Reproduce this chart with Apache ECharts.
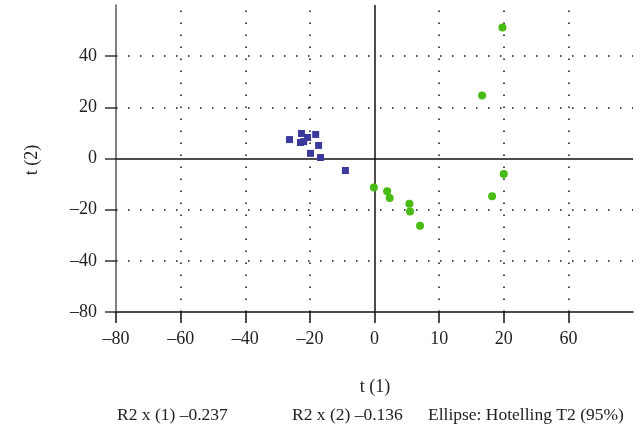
<!DOCTYPE html>
<html><head><meta charset="utf-8">
<script src="https://cdn.jsdelivr.net/npm/echarts@6/dist/echarts.min.js"></script>
<style>html,body{margin:0;padding:0;background:#fff}#c{width:644px;height:432px}</style>
</head><body><div id="c"></div>
<script>
// Blue squares (group 1)
const groupA = [[-26.3,7.4],[-22.6,9.8],[-20.7,8.2],[-18.2,9.4],[-22.9,6.25],[-21.9,6.6],[-17.3,5.1],[-19.8,2.0],[-16.7,0.4],[-9.0,-4.7]];
// Green circles (group 2)
const groupB = [[39.6,51.2],[33.3,24.6],[40.0,-6.1],[-0.2,-11.3],[3.9,-12.8],[4.7,-15.4],[10.8,-17.7],[11.0,-20.7],[14.1,-26.3],[36.4,-14.8]];
const xTickValues = [-80,-60,-40,-20,0,20,40,60];
const xTickLabels = ['–80','–60','–40','–20','0','10','20','60'];
const yTickValues = [-60,-40,-20,0,20,40];
const yTickLabels = ['–80','–40','–20','0','20','40'];
const xGridValues = [-60,-40,-20,20,40,60];
const yGridValues = [-40,-20,20,40];
const xName = 't (1)';
const yName = 't (2)';
const footers = ['R2 x (1) –0.237','R2 x (2) –0.136','Ellipse: Hotelling T2 (95%)'];

const FONT = '"Liberation Serif", "Times New Roman", serif';
const chart = echarts.init(document.getElementById('c'), null, {renderer:'canvas'});
const dotted = {color:'#111', width:1.5, type:[1.5,10.5], opacity:1};
chart.setOption({
  animation:false,
  grid:{left:116, right:11, top:5, bottom:120},
  xAxis:{
    type:'value', min:-80, max:80, interval:20,
    axisLine:{show:true, onZero:false, lineStyle:{color:'#111', width:1.5}},
    axisTick:{show:true, length:11, customValues:xTickValues, lineStyle:{color:'#111', width:1.5}},
    axisLabel:{customValues:xTickValues, margin:18, fontFamily:FONT, fontSize:18, color:'#222',
      formatter:v=>{const i=xTickValues.indexOf(v);return i>=0?xTickLabels[i]:'';}},
    splitLine:{show:false}
  },
  yAxis:{
    type:'value', min:-60, max:60, interval:20,
    axisLine:{show:true, onZero:false, lineStyle:{color:'#555', width:1.5}},
    axisTick:{show:true, length:11, customValues:yTickValues, lineStyle:{color:'#333', width:1.5}},
    axisLabel:{customValues:yTickValues, margin:19, fontFamily:FONT, fontSize:18, color:'#222',
      formatter:v=>{const i=yTickValues.indexOf(v);return i>=0?yTickLabels[i]:'';}},
    splitLine:{show:false}
  },
  graphic:[
    {type:'text', x:375, y:387, style:{text:xName, font:'18px '+FONT, fill:'#222', align:'center', verticalAlign:'middle'}},
    {type:'text', x:32, y:160, rotation:Math.PI/2, style:{text:yName, font:'18px '+FONT, fill:'#222', align:'center', verticalAlign:'middle'}},
    {type:'text', x:117, y:415, style:{text:footers[0], font:'17.5px '+FONT, fill:'#222', verticalAlign:'middle'}},
    {type:'text', x:292, y:415, style:{text:footers[1], font:'17.5px '+FONT, fill:'#222', verticalAlign:'middle'}},
    {type:'text', x:428, y:415, style:{text:footers[2], font:'17.5px '+FONT, fill:'#222', verticalAlign:'middle'}}
  ],
  series:[
    {type:'scatter', data:[], z:1, silent:true,
     markLine:{silent:true, symbol:'none', label:{show:false}, animation:false, z:1,
       lineStyle:dotted, emphasis:{disabled:true},
       data:xGridValues.map(v=>({xAxis:v})).concat(yGridValues.map(v=>({yAxis:v})))}},
    {type:'scatter', data:[], z:2, silent:true,
     markLine:{silent:true, symbol:'none', label:{show:false}, animation:false, z:2,
       lineStyle:{color:'#111', width:1.5, type:'solid', opacity:1}, emphasis:{disabled:true},
       data:[{xAxis:0},{yAxis:0}]}},
    {type:'scatter', data:groupA, symbol:'rect', symbolSize:7, itemStyle:{color:'#3b3a9c', opacity:1}, z:5},
    {type:'scatter', data:groupB, symbol:'circle', symbolSize:8, itemStyle:{color:'#48bb14', opacity:1}, z:6}
  ]
});
</script>
</body></html>
